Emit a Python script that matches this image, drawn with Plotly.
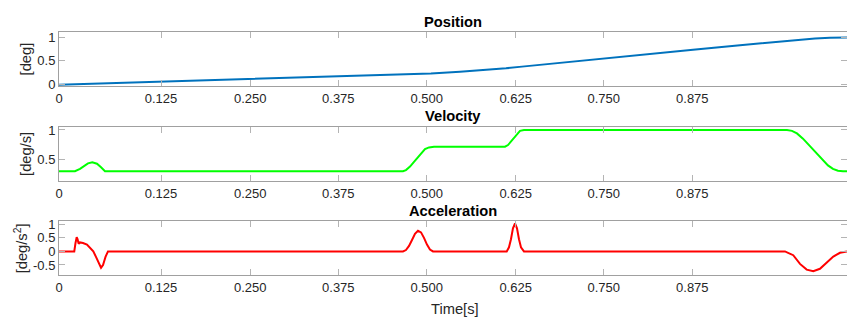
import plotly.graph_objects as go

# ---------------- data ----------------
X_END = 1.1099
X_TICK_VALS = [0, 0.1437, 0.2694, 0.3934, 0.5179, 0.6432, 0.7672, 0.8920]
X_TICK_TEXT = ["0", "0.125", "0.250", "0.375", "0.500", "0.625", "0.750", "0.875"]

TIME_POS = [0, 0.0577, 0.1437, 0.269, 0.3394, 0.4099, 0.4845, 0.5239, 0.5648,
            0.607, 0.6296, 0.6521, 0.6915, 0.7676, 0.8324, 0.893, 0.9592,
            1.0254, 1.0437, 1.0648, 1.0859, 1.1099]
POSITION = [0.0, 0.025, 0.062, 0.115, 0.145, 0.175, 0.21, 0.235, 0.27,
            0.315, 0.345, 0.38, 0.44, 0.55, 0.645, 0.735, 0.83,
            0.925, 0.95, 0.97, 0.985, 0.99]

TIME_VEL = [0, 0.0225, 0.0296, 0.0366, 0.0408, 0.0469, 0.0535, 0.0592, 0.0648,
            0.2, 0.4, 0.4845, 0.4887, 0.4944, 0.5, 0.5042, 0.5099, 0.5155, 0.5211,
            0.5282, 0.6, 0.6282, 0.6324, 0.6366, 0.6408, 0.6451, 0.6493, 0.6549,
            0.8, 1.0254, 1.0324, 1.0394, 1.0479, 1.0549, 1.062, 1.069, 1.0761,
            1.0831, 1.0901, 1.0972, 1.1042, 1.1099]
VELOCITY = [0.29, 0.29, 0.33, 0.39, 0.425, 0.445, 0.42, 0.36, 0.29,
            0.29, 0.29, 0.29, 0.31, 0.37, 0.45, 0.51, 0.60, 0.67, 0.70,
            0.712, 0.712, 0.712, 0.74, 0.80, 0.87, 0.94, 0.985, 1.0,
            1.0, 1.0, 0.985, 0.94, 0.85, 0.76, 0.67, 0.57, 0.47,
            0.39, 0.33, 0.30, 0.29, 0.29]

TIME_ACC = [0, 0.0215, 0.0232, 0.0249, 0.0261, 0.0277, 0.0296, 0.0338, 0.0394,
            0.0437, 0.0483, 0.0521, 0.0556, 0.0592, 0.062, 0.0655, 0.069,
            0.4845, 0.4887, 0.493, 0.4972, 0.5014, 0.5056, 0.5099, 0.5141, 0.5183,
            0.5225, 0.5268,
            0.6306, 0.6338, 0.6366, 0.6394, 0.6423, 0.6451, 0.6479, 0.6507, 0.6549,
            1.0225, 1.0342, 1.0437, 1.0531, 1.0624, 1.0718, 1.0813, 1.0906, 1.1,
            1.1099]
ACCELERATION = [0, 0, 0.3, 0.52, 0.45, 0.28, 0.33, 0.31, 0.25,
                0.13, 0.0, -0.2, -0.42, -0.6, -0.5, -0.2, 0.0,
                0.0, 0.05, 0.2, 0.42, 0.65, 0.76, 0.7, 0.5, 0.25,
                0.07, 0.0,
                0.0, 0.15, 0.45, 0.85, 1.03, 0.85, 0.45, 0.15, 0.0,
                0.0, -0.14, -0.46, -0.67, -0.73, -0.64, -0.41, -0.19, -0.05,
                0.0]

POS_RANGE = [-0.035, 1.10]
POS_TICKS = [0, 0.5, 1]
POS_TICK_TEXT = ["0", "0.5", "1"]
VEL_RANGE = [0.122, 1.055]
VEL_TICKS = [0.5, 1]
VEL_TICK_TEXT = ["0.5", "1"]
ACC_RANGE = [-0.88, 1.107]
ACC_TICKS = [-0.5, 0, 0.5, 1]
ACC_TICK_TEXT = ["-0.5", "0", "0.5", "1"]

TITLES = ["Position", "Velocity", "Acceleration"]
YLABELS = ["[deg]", "[deg/s]", "[deg/s<sup>2</sup>]"]
XLABEL = "Time[s]"

# ---------------- layout helpers ----------------
W, H = 847, 322
FONT = "Liberation Sans, Arial, sans-serif"
TXT = "#262626"
LINE_C = "#a0a0a0"
TICK_C = "#b4b4b4"
PANELS = [(29.3, 85.0), (126.7, 182.7), (224.3, 280.0)]  # pixel top/bottom


def dom(top, bottom):
    return [1 - bottom / H, 1 - top / H]


def py(p):
    return 1 - p / H


fig = go.Figure()
series = [(TIME_POS, POSITION, "#0072BD"),
          (TIME_VEL, VELOCITY, "#00FF00"),
          (TIME_ACC, ACCELERATION, "#FF0000")]
for i, (xs, ys, col) in enumerate(series):
    sfx = "" if i == 0 else str(i + 1)
    fig.add_trace(go.Scatter(x=xs, y=ys, mode="lines",
                             line=dict(color=col, width=2),
                             xaxis="x" + sfx, yaxis="y" + sfx,
                             showlegend=False, hoverinfo="skip"))
# empty traces to hold right-hand tick axes
for i in range(3):
    sfx = "" if i == 0 else str(i + 1)
    fig.add_trace(go.Scatter(x=[None], y=[None], mode="lines",
                             xaxis="x" + sfx, yaxis="y" + str(i + 4),
                             showlegend=False, hoverinfo="skip"))

yinfo = [(POS_RANGE, POS_TICKS, POS_TICK_TEXT),
         (VEL_RANGE, VEL_TICKS, VEL_TICK_TEXT),
         (ACC_RANGE, ACC_TICKS, ACC_TICK_TEXT)]

layout = dict(width=W, height=H, margin=dict(l=59, r=0, t=0, b=0),
              paper_bgcolor="white", plot_bgcolor="white",
              font=dict(family=FONT, color=TXT))
annotations = []
for i, (top, bot) in enumerate(PANELS):
    sfx = "" if i == 0 else str(i + 1)
    rng, tv, tt = yinfo[i]
    layout["xaxis" + sfx] = dict(
        anchor="y" + sfx, range=[0, X_END], tickvals=X_TICK_VALS,
        ticktext=X_TICK_TEXT, ticks="inside", ticklen=6, tickcolor=TICK_C,
        showline=True, linecolor=LINE_C, linewidth=1, mirror="ticks",
        showgrid=False, zeroline=False,
        tickfont=dict(family=FONT, size=13, color=TXT))
    layout["yaxis" + sfx] = dict(
        anchor="x" + sfx, domain=dom(top, bot), range=rng, tickvals=tv,
        ticktext=tt, ticks="inside", ticklen=6, tickcolor=TICK_C,
        showline=True, linecolor=LINE_C, linewidth=1, mirror=False,
        showgrid=False, zeroline=False,
        tickfont=dict(family=FONT, size=13, color=TXT))
    layout["yaxis" + str(i + 4)] = dict(
        anchor="x" + sfx, overlaying="y" + sfx, side="right", range=rng,
        tickvals=tv, ticks="inside", ticklen=6, tickcolor=TICK_C,
        showticklabels=False, showline=False, showgrid=False, zeroline=False)
    annotations.append(dict(text="<b>%s</b>" % TITLES[i], xref="paper",
                            yref="paper", x=0.5, y=py(top - 11),
                            xanchor="center", yanchor="middle",
                            showarrow=False,
                            font=dict(family=FONT, size=14.7, color="black")))
    annotations.append(dict(text=YLABELS[i], xref="paper", yref="paper",
                            x=(26 - 59) / (W - 59) if i < 2 else (21 - 59) / (W - 59),
                            y=py((top + bot) / 2), textangle=-90,
                            xanchor="center", yanchor="middle",
                            showarrow=False,
                            font=dict(family=FONT, size=14.7, color=TXT)))
annotations.append(dict(text=XLABEL, xref="paper", yref="paper",
                        x=(455 - 59) / (W - 59), y=py(315),
                        xanchor="center", yanchor="middle", showarrow=False,
                        font=dict(family=FONT, size=14.7, color=TXT)))
layout["annotations"] = annotations
fig.update_layout(**layout)
fig.write_html("out.html")
